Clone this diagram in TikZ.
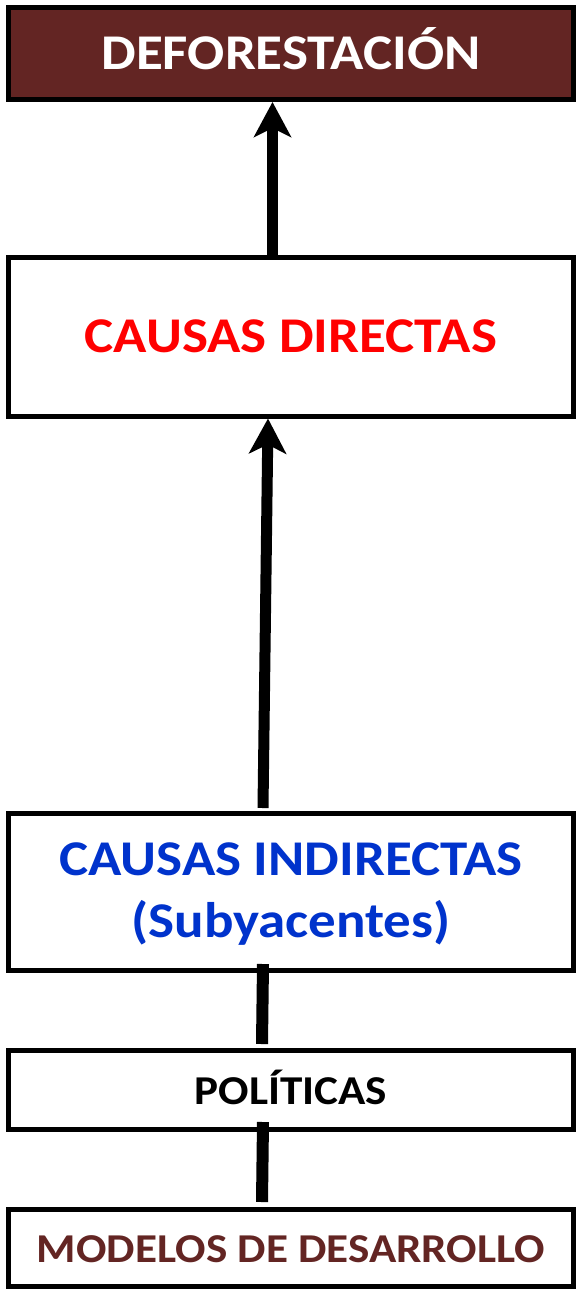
\documentclass[tikz,border=0pt]{standalone}
\usepackage{fontspec}
\setmainfont{Carlito}[FakeStretch=1.1]
\usetikzlibrary{arrows.meta}
\definecolor{darkmaroon}{HTML}{632523}
\definecolor{bluetxt}{HTML}{0033CC}
\definecolor{redtxt}{HTML}{FF0000}
\begin{document}
\begin{tikzpicture}[x=1bp,y=-1bp,
  box/.style={draw=black, line width=5bp, fill=white, rectangle, minimum width=564bp, inner sep=0pt},
  bigtxt/.style={font=\bfseries\fontsize{50bp}{62bp}\selectfont},
  smalltxt/.style={font=\bfseries\fontsize{41bp}{50bp}\selectfont},
  arr/.style={line width=11bp, -{Stealth[length=35bp,width=37bp,inset=9bp]}},
  conn/.style={line width=12bp}]
\useasboundingbox (0,0) rectangle (577,1290);
\node[box, bigtxt, fill=darkmaroon, text=white, minimum height=92bp, text height=31.6bp, text depth=0pt] (B1) at (291,53.5) {DEFORESTACIÓN};
\node[box, bigtxt, text=redtxt, minimum height=158.5bp, text height=31.6bp, text depth=0pt] (B2) at (291,336.75) {CAUSAS DIRECTAS};
\node[box, bigtxt, text=bluetxt, minimum height=157.5bp, align=center] (B3) at (291,891.75) {\rule{0pt}{37.6bp}CAUSAS INDIRECTAS\\(Subyacentes)};
\node[box, smalltxt, text=black, minimum height=79.5bp, text height=29.9bp, text depth=0pt] (B4) at (291,1089.75) {POLÍTICAS};
\node[box, smalltxt, text=darkmaroon, minimum height=77bp, text height=29.9bp, text depth=0pt] (B5) at (291,1247.5) {MODELOS DE DESARROLLO};
\draw[arr] ([xshift=-18.5bp]B2.north) -- ([xshift=-18.5bp]B1.south);
\draw[arr] ([xshift=-28bp,yshift=2.5bp]B3.north) -- ([xshift=-23bp]B2.south);
\draw[conn] ([xshift=-28bp,yshift=9bp]B3.south) -- ([xshift=-29bp,yshift=3.5bp]B4.north);
\draw[conn] ([xshift=-28bp,yshift=10bp]B4.south) -- ([xshift=-29bp,yshift=4.5bp]B5.north);
\end{tikzpicture}
\end{document}
